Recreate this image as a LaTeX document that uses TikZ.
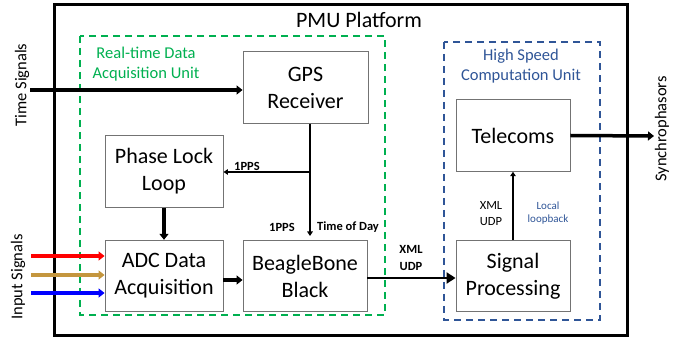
\documentclass[tikz,border=0pt]{standalone}
\usepackage{fontspec}
\setmainfont{Carlito}
\usetikzlibrary{arrows.meta}

\definecolor{unitgreen}{RGB}{0,176,80}
\definecolor{unitblue}{RGB}{47,85,151}
\definecolor{sigred}{RGB}{255,0,0}
\definecolor{siggold}{RGB}{196,150,62}
\definecolor{sigblue}{RGB}{0,0,255}

\tikzstyle{block}=[draw=black!55,line width=0.9pt,minimum height=71.5pt,inner sep=0pt,align=center,font=\fontsize{22}{27}\selectfont]
\tikzstyle{unit}=[line width=1.8pt,dash pattern=on 7pt off 5pt]
\tikzstyle{unitlabel}=[inner sep=0pt,align=center,font=\fontsize{16.5}{20}\selectfont]
\tikzstyle{title}=[inner sep=0pt,font=\fontsize{22}{26}\selectfont]
\tikzstyle{sidelabel}=[inner sep=0pt,rotate=90,font=\fontsize{16.5}{20}\selectfont]
\tikzstyle{tag}=[inner sep=0pt,align=center,font=\bfseries\fontsize{12.5}{17}\selectfont]
\tikzstyle{fatarrow}=[line width=3.5pt,-{Triangle[length=6pt,width=9pt]}]
\tikzstyle{busarrow}=[line width=2.5pt,-{Triangle[length=9pt,width=11pt]}]
\tikzstyle{thinarrow}=[line width=1.3pt,-{Triangle[length=4.5pt,width=5.5pt]}]

\begin{document}
\begin{tikzpicture}[x=1pt,y=-1pt]
			\useasboundingbox (0,0) rectangle (678,339);
			%Adding the platform frame and the two units
			\draw[line width=3pt] (54,5) rectangle (627,336);
			\draw[unit,unitgreen] (80,36) rectangle (385,315);
			\draw[unit,unitblue] (444,42) rectangle (600,320);
			\node[title] (platform) at (359,20) {PMU Platform};
			\node[unitlabel,text=unitgreen] (rtunit) at (146,64) {Real-time Data\\Acquisition Unit};
			\node[unitlabel,text=unitblue] (hsunit) at (521,66) {High Speed\\Computation Unit};
			%Adding the blocks
			\foreach \pos/\name/\w/\txt in {{(305.5,87.5)/gps/125/{GPS\\Receiver}},
									{(164,171.5)/pll/118/{Phase Lock\\Loop}},
									{(164,276)/adc/118/{ADC Data\\Acquisition}},
									{(305,276)/bbb/124/{BeagleBone\\Black}},
									{(513,135.5)/tel/114/{Telecoms}},
									{(513,276)/sp/114/{Signal\\Processing}}}
			\node[block,minimum width=\w pt] (\name) at \pos {\txt};
			%Adding the timing connections
			\coordinate (tsin) at (30,90);
			\draw[fatarrow] (tsin) -- (gps.west |- tsin);
			\coordinate (split) at (310,172);
			\coordinate (todin) at (310,236);
			\draw[line width=1.3pt] (gps.south -| split) -- (split);
			\draw[thinarrow] (split) -- (pll.east |- split);
			\draw[thinarrow] (split) -- (todin);
			\draw[fatarrow] (pll.south) -- (adc.north);
			%Adding the data connections
			\draw[fatarrow] ([yshift=-4pt]adc.east) -- ([yshift=-4pt]bbb.west);
			\draw[busarrow] ([yshift=-2pt]bbb.east) -- ([yshift=-2pt]sp.west);
			\draw[thinarrow] (sp.north) -- (tel.south);
			\coordinate (syncout) at (654,136);
			\draw[fatarrow] (tel.east) -- (syncout);
			\foreach \y/\col/\name in {256/sigred/ina, 275/siggold/inb, 293/sigblue/inc}{
				\coordinate (\name) at (31,\y);
				\draw[fatarrow,\col] (\name) -- (adc.west |- \name);
			}
			%Adding labels
			\node[tag] (ppsa) at (247,166) {1PPS};
			\node[tag] (ppsb) at (282,227) {1PPS};
			\node[tag] (tod) at (348,227) {Time of Day};
			\node[tag] (xmla) at (411,258) {XML\\UDP};
			\node[tag,font=\fontsize{12.5}{16}\selectfont] (xmlb) at (491,214) {XML\\UDP};
			\node[tag,font=\fontsize{11}{13}\selectfont,text=unitblue] (loop) at (548,213) {Local\\loopback};
			\node[sidelabel] (tsig) at (22,85) {Time Signals};
			\node[sidelabel] (isig) at (18,277) {Input Signals};
			\node[sidelabel] (sync) at (662,129) {Synchrophasors};
		\end{tikzpicture}
\end{document}
